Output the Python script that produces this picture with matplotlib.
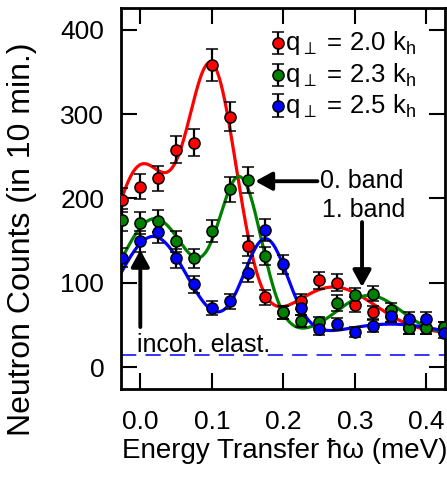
import numpy as np
import matplotlib
matplotlib.use("Agg")
import matplotlib.pyplot as plt
from matplotlib.patches import FancyArrowPatch

plt.rcParams['font.family'] = ['Liberation Sans', 'DejaVu Sans']
plt.rcParams['mathtext.fontset'] = 'custom'
plt.rcParams['mathtext.rm'] = 'Liberation Sans'
plt.rcParams['mathtext.default'] = 'regular'

# ---------------- data ----------------
energy = [-0.025, 0.0, 0.025, 0.05, 0.075, 0.1, 0.125, 0.15, 0.175, 0.2,
          0.225, 0.25, 0.275, 0.3, 0.325, 0.35, 0.375, 0.4, 0.425]

counts_20 = [198, 214, 224, 258, 266, 358, 297, 144, 83, 65,
             78, 103, 100, 74, 65, 61, 46, 46, 47]
err_20 = [14, 15, 15, 16, 16, 19, 17, 12, 9, 8, 9, 10, 10, 9, 8, 8, 7, 7, 7]

counts_23 = [175, 171, 173, 149, 129, 161, 211, 222, 132, 65,
             55, 53, 76, 85, 87, 68, 46, 46, 47]
err_23 = [13, 13, 13, 12, 11, 13, 15, 15, 11, 8, 7, 7, 9, 9, 9, 8, 7, 7, 7]

counts_25 = [130, 149, 160, 129, 98, 70, 78, 112, 163, 122,
             70, 45, 51, 42, 49, 61, 57, 57, 40]
err_25 = [11, 12, 13, 11, 10, 8, 9, 11, 13, 11, 8, 7, 7, 6, 7, 8, 8, 8, 6]

labels = [r'q$_{\perp}$ = 2.0 k$_{h}$', r'q$_{\perp}$ = 2.3 k$_{h}$', r'q$_{\perp}$ = 2.5 k$_{h}$']
colors = ['#ff0000', '#008000', '#0000ff']

# fitted model: background + gaussian peaks (center, amplitude, sigma)
fit_bg = [40, 38, 33]
fit_peaks = [
    [(0.0, 195, 0.041), (0.1, 310, 0.035), (0.27, 55, 0.058)],
    [(0.02, 138, 0.05), (0.14, 180, 0.03), (0.32, 47, 0.045)],
    [(0.018, 122, 0.048), (0.175, 118, 0.031), (0.35, 18, 0.07)],
]
incoherent_level = 14

xlim = (-0.027, 0.426)
ylim = (-26, 426)

# ---------------- figure ----------------
fig = plt.figure(figsize=(4.47, 4.79), dpi=100)
ax = fig.add_axes([0.2707, 0.1879, 0.7248, 0.7954])

fs_tick = 19
fs_leg = 18.5
fs_ann = 18
fs_lab = 20

xf = np.linspace(xlim[0], xlim[1], 600)
for bg, peaks, c in zip(fit_bg, fit_peaks, colors):
    yf = np.full_like(xf, bg, dtype=float)
    for (x0, a, s) in peaks:
        yf += a * np.exp(-(xf - x0) ** 2 / (2 * s ** 2))
    ax.plot(xf, yf, color=c, lw=2.3, zorder=2, solid_capstyle='round')

for y, e, c in zip([counts_20, counts_23, counts_25], [err_20, err_23, err_25], colors):
    ax.errorbar(energy, y, yerr=e, fmt='o', ms=8, mfc=c, mec='black', mew=1.1,
                ecolor='black', elinewidth=1.6, capsize=4.3, capthick=1.6, zorder=3)

# incoherent elastic level
ln, = ax.plot(xlim, [incoherent_level] * 2, color='#0000ff', lw=1.1, zorder=1)
ln.set_dashes([10, 6])

# legend (manual)
leg_y = [0.908, 0.824, 0.743]
for ly, lab, c in zip(leg_y, labels, colors):
    ax.errorbar([0.4846], [ly], yerr=[0.03], fmt='o', ms=8, mfc=c, mec='black', mew=1.1,
                ecolor='black', elinewidth=1.6, capsize=4.3, capthick=1.6,
                transform=ax.transAxes, zorder=4, clip_on=False)
    ax.text(0.505, ly, lab, transform=ax.transAxes, fontsize=fs_leg, va='center', ha='left')

# arrows and annotations
def arrow(p0, p1):
    a = FancyArrowPatch(p0, p1, arrowstyle='-|>,head_length=10,head_width=5.5',
                        mutation_scale=1, lw=2.8, color='black', shrinkA=0, shrinkB=0, zorder=5)
    ax.add_patch(a)

arrow((0.2476, 220.5), (0.1608, 220.5))
ax.text(0.251, 220.5, '0. band', fontsize=fs_ann, va='center', ha='left')
arrow((0.310, 172), (0.310, 95))
ax.text(0.254, 186, '1. band', fontsize=fs_ann, va='center', ha='left')
arrow((0.0, 47.5), (0.0, 139))
ax.text(-0.004, 17.8, 'incoh. elast.', fontsize=fs_ann, va='baseline', ha='left')

ax.set_xlim(*xlim)
ax.set_ylim(*ylim)
ax.set_xticks([0.0, 0.1, 0.2, 0.3, 0.4])
ax.set_xticklabels(['0.0', '0.1', '0.2', '0.3', '0.4'])
ax.set_yticks([0, 100, 200, 300, 400])
ax.tick_params(direction='in', length=11.5, width=1.5, top=True, right=True,
               labelsize=fs_tick, pad=12)
ax.tick_params(axis='x', pad=15)
for sp in ax.spines.values():
    sp.set_linewidth(2.0)

fig.text(0.636, 0.058, 'Energy Transfer ħω (meV)', fontsize=fs_lab, ha='center', va='center')
fig.text(0.049, 0.50, 'Neutron Counts (in 10 min.)', fontsize=23, ha='center', va='center',
         rotation=90)

fig.savefig('out.png', dpi=100)
